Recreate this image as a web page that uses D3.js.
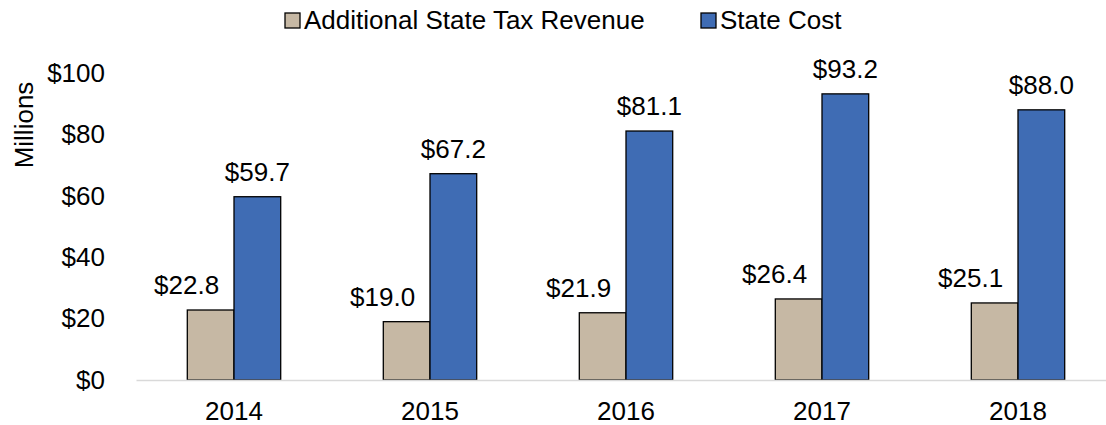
<!DOCTYPE html>
<html>
<head>
<meta charset="utf-8">
<script src="https://cdn.jsdelivr.net/npm/d3@7"></script>
<style>
  body { margin: 0; background: #fff; }
  svg { display: block; }
</style>
</head>
<body>
<div id="grafico"></div>
<script>
// Datos de la grafica
const anios = ['2014', '2015', '2016', '2017', '2018'];
const series = ['Additional State Tax Revenue', 'State Cost'];
const ingresos = [22.8, 19.0, 21.9, 26.4, 25.1];
const costos = [59.7, 67.2, 81.1, 93.2, 88.0];
const ticksY = [0, 20, 40, 60, 80, 100];

// Tamaño de la ventana
const w = 1106;
const h = 425;
const colores = ['#c6b8a4', '#3f6cb4'];
const fuente = 'Arial, "Liberation Sans", sans-serif';
const tamFuente = '26px';

const svg = d3.select('#grafico')
  .append('svg')
  .attr('width', w)
  .attr('height', h);

// Escalas
const xScale = d3.scaleBand()
  .domain(anios)
  .range([136, 1116]);

const anchoBarra = 46.7;
const xSerie = d3.scaleBand()
  .domain(series)
  .range([xScale.bandwidth() / 2 - anchoBarra, xScale.bandwidth() / 2 + anchoBarra]);

const yScale = d3.scaleLinear()
  .domain([0, 100])
  .range([380, 73]);

// Eje Y (solo etiquetas)
const ejeY = svg.append('g')
  .attr('transform', 'translate(105,0)')
  .call(d3.axisLeft(yScale).tickValues(ticksY).tickSize(0).tickPadding(0)
    .tickFormat((d) => '$' + d));
ejeY.select('.domain').remove();
ejeY.selectAll('text')
  .style('font-family', fuente)
  .style('font-size', tamFuente)
  .attr('fill', '#000');

// Texto del eje Y
svg.append('text')
  .attr('text-anchor', 'middle')
  .attr('transform', 'translate(33,125)rotate(-90)')
  .style('font-family', fuente)
  .style('font-size', tamFuente)
  .text('Millions');

// Barras
const datos = anios.map((a, i) => ({ anio: a, valores: [ingresos[i], costos[i]] }));

const grupos = svg.selectAll('g.grupo')
  .data(datos)
  .enter()
  .append('g')
  .attr('class', 'grupo')
  .attr('transform', (d) => 'translate(' + xScale(d.anio) + ',0)');

grupos.selectAll('rect')
  .data((d) => d.valores.map((v, j) => ({ serie: series[j], v: v, j: j })))
  .enter()
  .append('rect')
  .attr('x', (d) => xSerie(d.serie))
  .attr('y', (d) => yScale(d.v))
  .attr('width', xSerie.bandwidth())
  .attr('height', (d) => yScale(0) - yScale(d.v))
  .attr('fill', (d) => colores[d.j])
  .attr('stroke', '#000')
  .attr('stroke-width', 1.3);

// Etiquetas de datos
grupos.selectAll('text.valor')
  .data((d) => d.valores.map((v, j) => ({ serie: series[j], v: v, j: j })))
  .enter()
  .append('text')
  .attr('class', 'valor')
  .attr('x', (d) => xSerie(d.serie) + xSerie.bandwidth() / 2 - (d.j === 0 ? 24 : 0))
  .attr('y', (d) => yScale(d.v) - 16)
  .attr('text-anchor', 'middle')
  .style('font-family', fuente)
  .style('font-size', tamFuente)
  .text((d) => '$' + d.v.toFixed(1));

// Eje X
const ejeX = svg.append('g')
  .attr('transform', 'translate(0,' + yScale(0) + ')')
  .call(d3.axisBottom(xScale).tickSize(0).tickPadding(22));
ejeX.select('.domain')
  .attr('stroke', '#d9d9d9')
  .attr('stroke-width', 1.5);
ejeX.selectAll('text')
  .style('font-family', fuente)
  .style('font-size', tamFuente)
  .attr('fill', '#000');

// Leyenda
const leyendaX = [285, 701];
const leyenda = svg.selectAll('g.leyenda')
  .data(series)
  .enter()
  .append('g')
  .attr('class', 'leyenda')
  .attr('transform', (d, i) => 'translate(' + leyendaX[i] + ',13)');

leyenda.append('rect')
  .attr('width', 15)
  .attr('height', 15)
  .attr('fill', (d, i) => colores[i])
  .attr('stroke', '#000')
  .attr('stroke-width', 1.3);

leyenda.append('text')
  .attr('x', 19)
  .attr('y', 16)
  .style('font-family', fuente)
  .style('font-size', tamFuente)
  .text((d) => d);
</script>
</body>
</html>
